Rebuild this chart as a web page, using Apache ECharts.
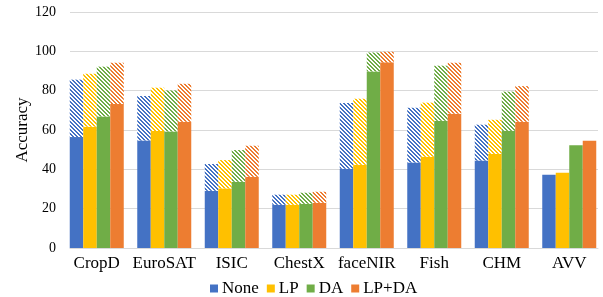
<!DOCTYPE html>
<html>
<head>
    <meta charset="utf-8">
    <title>Accuracy</title>
    <script src="https://cdn.jsdelivr.net/npm/echarts@6/dist/echarts.min.js"></script>
    <style>
        html, body { margin: 0; padding: 0; background: #fff; }
        #chart { width: 603px; height: 297px; }
    </style>
</head>
<body>
<div id="chart"></div>
<script>
    var categories = ['CropD', 'EuroSAT', 'ISIC', 'ChestX', 'faceNIR', 'Fish', 'CHM', 'AVV'];
    var seriesNames = ['None', 'LP', 'DA', 'LP+DA'];
    var colors = ['#4472C4', '#FFC000', '#70AD47', '#ED7D31'];
    var yTicks = [0, 20, 40, 60, 80, 100, 120];

    // solid part (lower value) per method
    var baseNone = [56.4, 54.7, 29.1, 22.0, 40.3, 43.5, 44.5, 37.3];
    var baseLP   = [61.7, 59.5, 30.3, 22.0, 42.3, 46.4, 47.9, 38.3];
    var baseDA   = [66.9, 59.3, 33.7, 22.5, 89.8, 64.7, 59.6, 52.2];
    var baseLPDA = [73.2, 64.2, 36.2, 23.0, 94.4, 68.3, 64.2, 54.5];

    // top of hatched part (upper value) per method
    var topNone = [85.6, 77.3, 42.7, 27.1, 73.7, 71.3, 62.7, null];
    var topLP   = [88.6, 81.5, 44.7, 27.1, 75.9, 73.9, 65.2, null];
    var topDA   = [92.2, 80.1, 49.8, 28.1, 99.4, 92.7, 79.5, null];
    var topLPDA = [94.2, 83.5, 52.0, 28.6, 99.8, 94.2, 82.3, null];

    var bases = [baseNone, baseLP, baseDA, baseLPDA];
    var tops = [topNone, topLP, topDA, topLPDA];

    // diagonal stripe pattern
    function hatch(color) {
        var c = document.createElement('canvas');
        c.width = 4;
        c.height = 4;
        var ctx = c.getContext('2d');
        ctx.fillStyle = '#fff';
        ctx.fillRect(0, 0, 4, 4);
        ctx.fillStyle = color;
        for (var y = 0; y < 4; y++) {
            ctx.fillRect(y % 4, y, 1, 1);
            ctx.fillRect((y + 1) % 4, y, 1, 1);
        }
        return { image: c, repeat: 'repeat' };
    }

    var series = [];
    for (var i = 0; i < 4; i++) {
        series.push({
            name: seriesNames[i],
            type: 'bar',
            stack: 's' + i,
            barGap: '0%',
            barCategoryGap: '20%',
            itemStyle: { color: colors[i] },
            data: bases[i]
        });
        var diff = [];
        for (var j = 0; j < categories.length; j++) {
            diff.push(tops[i][j] == null ? null : +(tops[i][j] - bases[i][j]).toFixed(1));
        }
        series.push({
            name: seriesNames[i] + ' gap',
            type: 'bar',
            stack: 's' + i,
            barGap: '0%',
            barCategoryGap: '20%',
            itemStyle: { color: hatch(colors[i]) },
            data: diff
        });
    }

    var myChart = echarts.init(document.getElementById('chart'), null, { renderer: 'canvas' });
    var option = {
        animation: false,
        textStyle: { fontFamily: 'Liberation Serif' },
        color: colors,
        grid: [
            // bars
            { left: 63, right: -1, top: 12, bottom: 49 },
            // gridlines and y labels
            { left: 70, right: 5, top: 12, bottom: 49 }
        ],
        legend: {
            data: seriesNames,
            top: 275,
            left: 205,
            itemWidth: 8,
            itemHeight: 8,
            itemGap: 8,
            icon: 'rect',
            textStyle: { fontFamily: 'Liberation Serif', fontSize: 17, color: '#000', padding: [0, 0, 0, -1] }
        },
        xAxis: [{
            type: 'category',
            gridIndex: 0,
            data: categories,
            axisTick: { show: false },
            axisLine: { show: false },
            axisLabel: { interval: 0, fontFamily: 'Liberation Serif', fontSize: 17, color: '#000', margin: 7 }
        }, {
            type: 'value',
            gridIndex: 1,
            min: 0,
            max: 1,
            axisTick: { show: false },
            axisLabel: { show: false },
            splitLine: { show: false },
            axisLine: { lineStyle: { color: '#d9d9d9', width: 1 } }
        }],
        yAxis: [{
            type: 'value',
            gridIndex: 0,
            min: yTicks[0],
            max: yTicks[yTicks.length - 1],
            interval: 20,
            show: false
        }, {
            type: 'value',
            gridIndex: 1,
            min: yTicks[0],
            max: yTicks[yTicks.length - 1],
            interval: 20,
            name: 'Accuracy',
            nameLocation: 'middle',
            nameGap: 39,
            nameMoveOverlap: false,
            nameTextStyle: { fontFamily: 'Liberation Serif', fontSize: 17, color: '#000' },
            axisLine: { show: false },
            axisTick: { show: false },
            splitLine: { lineStyle: { color: '#d9d9d9', width: 1 } },
            axisLabel: { fontFamily: 'Liberation Serif', fontSize: 14, color: '#000', margin: 14 }
        }],
        series: series
    };
    myChart.setOption(option);
</script>
</body>
</html>
